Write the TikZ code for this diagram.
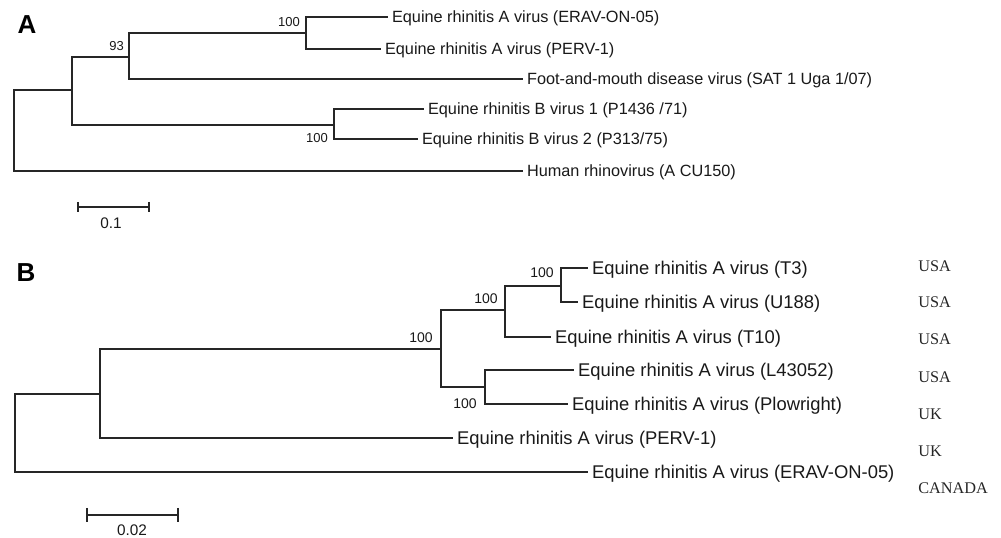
\documentclass[tikz,border=0pt]{standalone}
\usepackage{fontspec}
\setmainfont{Liberation Sans}
\newfontfamily\serifcountry{Liberation Serif}
\begin{document}
\begin{tikzpicture}[x=0.75pt,y=-0.75pt,
  branch/.style={draw=black!85,line width=1.1pt,line cap=rect},
  leafA/.style={anchor=west,inner xsep=3.6pt,inner ysep=0pt,text height=8.73pt,text depth=0pt,font=\fontsize{12.2}{14}\selectfont,text=black!90},
  leafB/.style={anchor=west,inner xsep=3.6pt,inner ysep=0pt,text height=9.88pt,text depth=0pt,font=\fontsize{13.8}{16}\selectfont,text=black!90},
  bootA/.style={anchor=east,inner sep=0pt,text height=6.98pt,text depth=0pt,font=\fontsize{9.75}{11}\selectfont,text=black!90},
  bootB/.style={anchor=east,inner sep=0pt,text height=7.52pt,text depth=0pt,font=\fontsize{10.5}{12}\selectfont,text=black!90},
  country/.style={anchor=west,inner sep=0pt,text height=8.08pt,text depth=0pt,font=\serifcountry\fontsize{12.2}{14}\selectfont,text=black!85},
  panel/.style={inner sep=0pt,text height=13.96pt,text depth=0pt,font=\fontsize{19.5}{22}\selectfont\bfseries},
  scalelab/.style={inner sep=0pt,text height=8.23pt,text depth=0pt,text=black!90,font=\fontsize{11.5}{13}\selectfont}]
\useasboundingbox (0,0) rectangle (1001,538);

% ---------- Panel A ----------
\node[panel] (PA) at (27,24) {A};
\coordinate (a0) at (14,131);
\coordinate (a1) at (72,90);
\coordinate (a2) at (129,57);
\coordinate (a3) at (306,33);
\coordinate (a4) at (334,125);
\node[leafA] (lA1) at (387,17) {Equine rhinitis A virus (ERAV-ON-05)};
\node[leafA] (lA2) at (380,49) {Equine rhinitis A virus (PERV-1)};
\node[leafA] (lA3) at (522,79) {Foot-and-mouth disease virus (SAT 1 Uga 1/07)};
\node[leafA] (lA4) at (423,109) {Equine rhinitis B virus 1 (P1436 /71)};
\node[leafA] (lA5) at (417,139) {Equine rhinitis B virus 2 (P313/75)};
\node[leafA] (lA6) at (522,171) {Human rhinovirus (A CU150)};
\draw[branch] (a0) |- (a1);
\draw[branch] (a0) |- (lA6.west);
\draw[branch] (a1) |- (a2);
\draw[branch] (a1) |- (a4);
\draw[branch] (a2) |- (a3);
\draw[branch] (a2) |- (lA3.west);
\draw[branch] (a3) |- (lA1.west);
\draw[branch] (a3) |- (lA2.west);
\draw[branch] (a4) |- (lA4.west);
\draw[branch] (a4) |- (lA5.west);
\node[bootA] (bA1) at (300,22) {100};
\node[bootA] (bA2) at (124,46) {93};
\node[bootA] (bA3) at (328,138) {100};
% scale A
\coordinate (sA1) at (78,207);
\coordinate (sA2) at (149,207);
\coordinate (sA1t) at (78,202);
\coordinate (sA1b) at (78,212);
\coordinate (sA2t) at (149,202);
\coordinate (sA2b) at (149,212);
\draw[branch,line cap=butt] (sA1) -- (sA2);
\draw[branch,line cap=butt] (sA1t) -- (sA1b);
\draw[branch,line cap=butt] (sA2t) -- (sA2b);
\node[scalelab] (sAl) at (111,223) {0.1};

% ---------- Panel B ----------
\node[panel] (PB) at (26,272) {B};
\coordinate (b0) at (15,433);
\coordinate (b1) at (100,394);
\coordinate (b2) at (441,349);
\coordinate (b3) at (505,310);
\coordinate (b4) at (561,286);
\coordinate (b5) at (485,387);
\node[leafB] (lB1) at (587,268) {Equine rhinitis A virus (T3)};
\node[leafB] (lB2) at (577,302) {Equine rhinitis A virus (U188)};
\node[leafB] (lB3) at (550,337) {Equine rhinitis A virus (T10)};
\node[leafB] (lB4) at (573,370) {Equine rhinitis A virus (L43052)};
\node[leafB] (lB5) at (567,404) {Equine rhinitis A virus (Plowright)};
\node[leafB] (lB6) at (452,438) {Equine rhinitis A virus (PERV-1)};
\node[leafB] (lB7) at (587,472) {Equine rhinitis A virus (ERAV-ON-05)};
\draw[branch] (b0) |- (b1);
\draw[branch] (b0) |- (lB7.west);
\draw[branch] (b1) |- (b2);
\draw[branch] (b1) |- (lB6.west);
\draw[branch] (b2) |- (b3);
\draw[branch] (b2) |- (b5);
\draw[branch] (b3) |- (b4);
\draw[branch] (b3) |- (lB3.west);
\draw[branch] (b4) |- (lB1.west);
\draw[branch] (b4) |- (lB2.west);
\draw[branch] (b5) |- (lB4.west);
\draw[branch] (b5) |- (lB5.west);
\node[bootB] (bB1) at (433,337) {100};
\node[bootB] (bB2) at (498,298) {100};
\node[bootB] (bB3) at (554,272) {100};
\node[bootB] (bB4) at (477,403) {100};
% countries
\node[country] (c1) at (918,266) {USA};
\node[country] (c2) at (918,302) {USA};
\node[country] (c3) at (918,339) {USA};
\node[country] (c4) at (918,377) {USA};
\node[country] (c5) at (918,414) {UK};
\node[country] (c6) at (918,451) {UK};
\node[country] (c7) at (918,488) {CANADA};
% scale B
\coordinate (sB1) at (87,515);
\coordinate (sB2) at (178,515);
\coordinate (sB1t) at (87,508);
\coordinate (sB1b) at (87,522);
\coordinate (sB2t) at (178,508);
\coordinate (sB2b) at (178,522);
\draw[branch,line cap=butt] (sB1) -- (sB2);
\draw[branch,line cap=butt] (sB1t) -- (sB1b);
\draw[branch,line cap=butt] (sB2t) -- (sB2b);
\node[scalelab] (sBl) at (132,530) {0.02};
\end{tikzpicture}
\end{document}
